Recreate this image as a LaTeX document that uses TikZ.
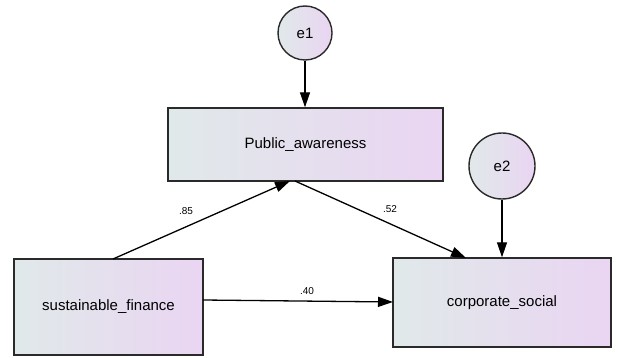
\documentclass[tikz,border=0pt]{standalone}
\usepackage{fontspec}
\setmainfont{Liberation Sans}
\usetikzlibrary{arrows.meta}
\definecolor{gleft}{HTML}{E0E9EA}
\definecolor{gright}{HTML}{EAD5F2}
\definecolor{edge}{HTML}{2A2A2A}
\tikzset{
  varbox/.style={draw=edge, line width=1.4pt, left color=gleft, right color=gright, inner sep=0pt, font=\fontsize{15}{18}\selectfont},
  errcirc/.style={circle, draw=edge, line width=1.4pt, left color=gleft, right color=gright, inner sep=0pt, font=\fontsize{15}{18}\selectfont},
  path/.style={draw=black, line width=1.3pt, -{Triangle[length=15pt,width=10pt]}},
  coef/.style={font=\fontsize{10}{12}\selectfont, inner sep=1pt}
}
\begin{document}
\begin{tikzpicture}[x=1pt,y=-1pt]
\useasboundingbox (0,0) rectangle (618,358);
\node[varbox, minimum width=275pt, minimum height=73pt] (pa) at (305.5,144.5) {Public\_awareness};
\node[varbox, minimum width=189pt, minimum height=96pt] (sf) at (108.5,307) {sustainable\_finance};
\node[varbox, minimum width=218pt, minimum height=89pt] (cs) at (502,302.5) {corporate\_social};
\node[errcirc, minimum size=54pt] (e1) at (305,33) {e1};
\node[errcirc, minimum size=66pt] (e2) at (502,166) {e2};
\draw[path] (e1) -- (pa.north -| e1);
\draw[path] (e2) -- (cs.north -| e2);
\coordinate (sfTop) at (113,259);
\coordinate (paIn) at (290,181);
\coordinate (paOut) at (295,181);
\coordinate (csIn) at (466,258);
\coordinate (sfR) at (203,300);
\coordinate (csL) at (393,302);
\draw[path] (sfTop) -- (paIn);
\draw[path] (paOut) -- (csIn);
\draw[path] (sfR) -- (csL);
\node[coef] (c85) at (186,211) {.85};
\node[coef] (c52) at (390,209) {.52};
\node[coef] (c40) at (307,291) {.40};
\end{tikzpicture}
\end{document}
